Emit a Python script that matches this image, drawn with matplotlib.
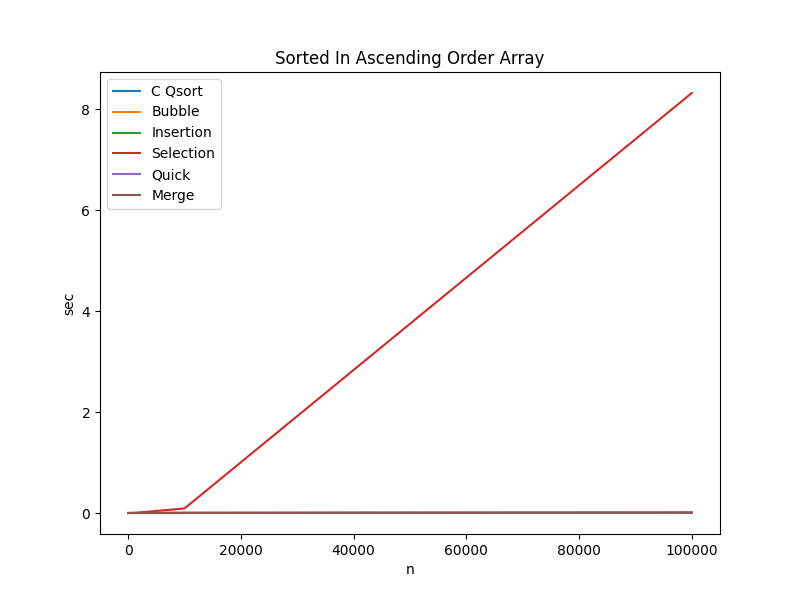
import matplotlib
matplotlib.use("Agg")
import matplotlib.pyplot as plt

n = [10, 100, 1000, 10000, 100000]

c_qsort = [0.000002, 0.000005, 0.00004, 0.0004, 0.004]
bubble = [0.000001, 0.000002, 0.00001, 0.0001, 0.0008]
insertion = [0.000001, 0.000002, 0.00001, 0.0001, 0.0009]
selection = [0.000005, 0.00009, 0.0009, 0.09, 8.32]
quick = [0.000003, 0.00002, 0.0003, 0.003, 0.006]
merge = [0.000004, 0.00003, 0.0004, 0.004, 0.012]

fig, ax = plt.subplots(figsize=(8, 6), dpi=100)

ax.plot(n, c_qsort, label="C Qsort")
ax.plot(n, bubble, label="Bubble")
ax.plot(n, insertion, label="Insertion")
ax.plot(n, selection, label="Selection")
ax.plot(n, quick, label="Quick")
ax.plot(n, merge, label="Merge")

ax.set_title("Sorted In Ascending Order Array")
ax.set_xlabel("n")
ax.set_ylabel("sec")
ax.legend()

fig.savefig("out.png")
